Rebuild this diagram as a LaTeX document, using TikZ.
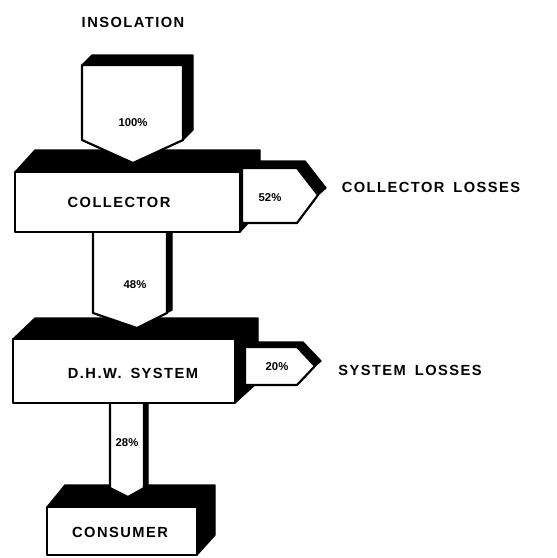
\documentclass[tikz,border=0pt]{standalone}
\usepackage{fontspec}
\setmainfont{Liberation Sans}
\newfontfamily\lblfont[LetterSpace=10,WordSpace=1.6]{Liberation Sans}
\begin{document}
\begin{tikzpicture}[x=0.75pt,y=-0.75pt,
  shade3d/.style={fill=black,draw=black,line width=1pt,line join=round},
  face/.style={fill=white,draw=black,line width=1.6pt,line join=round},
  biglbl/.style={font=\lblfont\bfseries\fontsize{11}{13}\selectfont,inner sep=0pt},
  pctlbl/.style={font=\bfseries\fontsize{8.5}{10}\selectfont,inner sep=0pt}]
\useasboundingbox (0,0) rectangle (557,558);
% collector box
\fill[shade3d] (15,172) -- (35,150) -- (260,150) -- (260,210) -- (240,232) -- (15,232) -- cycle;
\draw[face] (15,172) rectangle (240,232);
% collector losses arrow
\fill[shade3d] (242,168) -- (250,161) -- (305,161) -- (326,188) -- (318,195) -- (297,223) -- (242,223) -- cycle;
\draw[face] (242,168) -- (297,168) -- (318,195) -- (297,223) -- (242,223) -- cycle;
% insolation arrow
\fill[shade3d] (82,65) -- (92,55) -- (193,55) -- (193,130) -- (183,140) -- (133,163) -- (82,140) -- cycle;
\draw[face] (82,65) -- (183,65) -- (183,140) -- (133,163) -- (82,140) -- cycle;
% DHW box
\fill[shade3d] (13,339) -- (35,318) -- (258,318) -- (258,382) -- (235,403) -- (13,403) -- cycle;
\draw[face] (13,339) rectangle (235,403);
% system losses arrow
\fill[shade3d] (245,347) -- (251,342) -- (303,342) -- (321,361) -- (315,366) -- (297,385) -- (245,385) -- cycle;
\draw[face] (245,347) -- (297,347) -- (315,366) -- (297,385) -- (245,385) -- cycle;
% 48% arrow
\fill[shade3d] (93,233) -- (172,233) -- (172,310) -- (137,328) -- (93,313) -- cycle;
\draw[face] (93,233) -- (93,313) -- (137,328) -- (167,313) -- (167,233);
% consumer box
\fill[shade3d] (47,507) -- (65,485) -- (215,485) -- (215,535) -- (197,555) -- (47,555) -- cycle;
\draw[face] (47,507) rectangle (197,555);
% 28% arrow
\fill[shade3d] (110,404) -- (148,404) -- (148,486) -- (128,497) -- (110,488) -- cycle;
\draw[face] (110,404) -- (110,488) -- (128,497) -- (144,488) -- (144,404);
% labels
\node[biglbl] (ins) at (133,22) {INSOLATION};
\node[pctlbl] (p100) at (133,123) {100\%};
\node[biglbl] (col) at (119,202) {COLLECTOR};
\node[pctlbl] (p52) at (270,198) {52\%};
\node[biglbl] (coll) at (431,187) {COLLECTOR LOSSES};
\node[pctlbl] (p48) at (135,285) {48\%};
\node[biglbl] (dhw) at (133,373) {D.H.W. SYSTEM};
\node[pctlbl] (p20) at (277,367) {20\%};
\node[biglbl] (sysl) at (410,370) {SYSTEM LOSSES};
\node[pctlbl] (p28) at (127,443) {28\%};
\node[biglbl] (cons) at (120,532) {CONSUMER};
\end{tikzpicture}
\end{document}
